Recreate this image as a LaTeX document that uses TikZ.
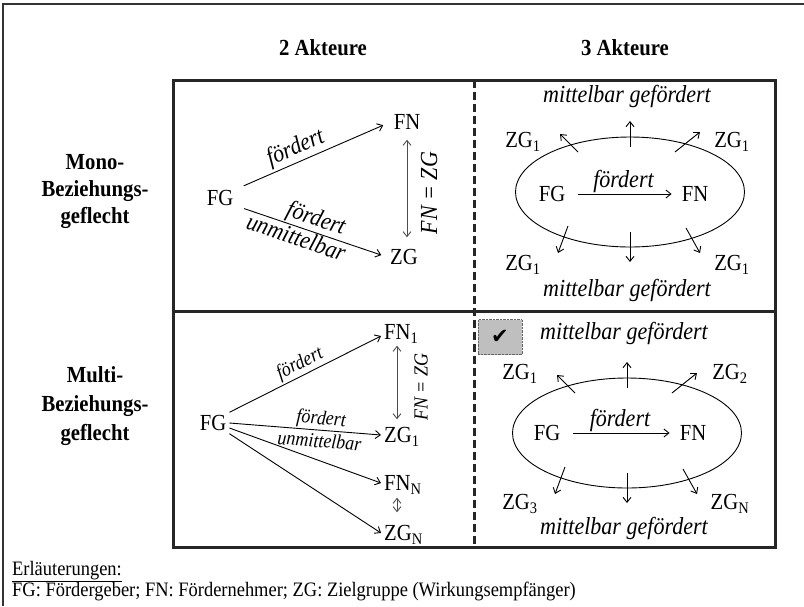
\documentclass[tikz,border=0pt]{standalone}
\usepackage{fontspec}
\setmainfont{Liberation Serif}[FakeStretch=0.9]
\newfontfamily\symfont{DejaVu Sans}
\usetikzlibrary{arrows.meta,shapes.geometric,calc}
\begin{document}
\begin{tikzpicture}[x=1pt,y=-1pt,>={Straight Barb[length=5pt,width=8pt]},
  lbl/.style={font=\fontsize{23}{27}\selectfont,inner sep=3pt,text height=15pt,text depth=0pt},
  itl/.style={font=\fontsize{24.5}{28}\selectfont\itshape,inner sep=2pt},
  itlsm/.style={font=\fontsize{20}{24}\selectfont\itshape,inner sep=2pt},
  hdr/.style={font=\fontsize{23}{28}\selectfont\bfseries,align=center},
  legend/.style={anchor=base west,inner sep=0pt,font=\fontsize{20.5}{24}\selectfont},
  flow/.style={->,line width=0.9pt},
  twoway/.style={<->,line width=0.9pt,draw=black!70},
  rim/.style={line width=3pt,draw=black!85},
  cloud/.style={draw,ellipse,line width=0.9pt,minimum width=229pt,minimum height=110pt,inner sep=0pt}]
\useasboundingbox (0,0) rectangle (804,606);
\draw[line width=1.2pt,black!80] (3,606) -- (3,4) -- (804,4);
% Tabelle
\draw[rim] (173,80) rectangle (775,547);
\draw[rim] (173,311) -- (775,311);
\draw[rim,dash pattern=on 8pt off 4pt] (474,80) -- (474,547);
\node[hdr] (hdrA) at (323,48) {2 Akteure};
\node[hdr] (hdrB) at (625,48) {3 Akteure};
\node[hdr,font=\fontsize{23}{27}\selectfont\bfseries] (rowA) at (95,192) {Mono-\\Beziehungs-\\geflecht};
\node[hdr,font=\fontsize{23}{29}\selectfont\bfseries] (rowB) at (95,406) {Multi-\\Beziehungs-\\geflecht};
% Mono, 2 Akteure
\node[lbl] (fgA) at (220,198) {FG};
\node[lbl] (fnA) at (407,122) {FN};
\node[lbl] (zgA) at (404,257) {ZG};
\draw[flow,shorten <=8pt,shorten >=8pt] ([yshift=9pt]fgA.east) -- (fnA.west)
  node[pos=0.42,above,sloped,itl] (lfA) {fördert};
\draw[flow,shorten <=8pt,shorten >=6pt] ([yshift=-8pt]fgA.east) -- (zgA.west)
  node[pos=0.5,above,sloped,itl,inner sep=1pt] (lfA2) {fördert}
  node[pos=0.42,below,sloped,itl,inner sep=1pt] (luA) {unmittelbar};
\draw[twoway,shorten <=7pt,shorten >=9pt] (fnA.south) -- (fnA.south |- zgA.north);
\node[itl,rotate=90] (eqA) at (429,193) {FN = ZG};
% Mono, 3 Akteure
\node[itl] (mgA1) at (627,96) {mittelbar gefördert};
\node[itl] (mgA2) at (627,290) {mittelbar gefördert};
\node[cloud] (ellA) at (630,192) {};
\node[lbl] (fgB) at (552,194) {FG};
\node[lbl] (fnB) at (695,194) {FN};
\draw[flow,shorten <=10pt,shorten >=7pt] (fgB.east) -- (fnB.west)
  node[midway,above,itl,inner sep=1pt] (lfB) {fördert};
\node[lbl] (zgA1) at (523,140) {ZG\textsubscript{1}};
\node[lbl] (zgA2) at (732,140) {ZG\textsubscript{1}};
\node[lbl] (zgA3) at (523,263) {ZG\textsubscript{1}};
\node[lbl] (zgA4) at (732,263) {ZG\textsubscript{1}};
% Multi, 2 Akteure
\node[lbl] (fgD) at (213,423) {FG};
\node[lbl,anchor=west] (fnD1) at (381,332) {FN\textsubscript{1}};
\node[lbl,anchor=west] (zgD1) at (381,435) {ZG\textsubscript{1}};
\node[lbl,anchor=west] (fnD2) at (381,483) {FN\textsubscript{N}};
\node[lbl,anchor=west] (zgD2) at (381,533) {ZG\textsubscript{N}};
\draw[flow] (fgD.north east) -- ([yshift=-4pt]fnD1.west)
  node[pos=0.5,above,sloped,itlsm] (lfD) {fördert};
\draw[flow] (fgD.east) -- (zgD1.west)
  node[pos=0.6,above,sloped,itlsm,inner sep=1pt] (lfD2) {fördert}
  node[pos=0.6,below=2pt,sloped,itlsm,inner sep=1pt] (luD) {unmittelbar};
\draw[flow] ([yshift=-5pt]fgD.east) -- (fnD2.west);
\draw[flow] (fgD.south east) -- (zgD2.west);
\draw[twoway,shorten <=3pt,shorten >=5pt] ([xshift=16pt]fnD1.south west) -- ([xshift=16pt]zgD1.north west);
\draw[twoway,shorten <=4pt,shorten >=10pt] ([xshift=16pt]fnD2.south west) -- ([xshift=16pt]zgD2.north west);
\node[itlsm,rotate=90] (eqD) at (421,387) {FN = ZG};
% Multi, 3 Akteure
\node[draw=black!60,densely dotted,fill=black!25,minimum width=44pt,minimum height=35pt] (chk) at (500,337) {};
\node[font=\symfont\fontsize{21}{21}\selectfont] (chkmark) at (chk) {✔};
\node[itl] (mgB1) at (624,333) {mittelbar gefördert};
\node[itl] (mgB2) at (624,528) {mittelbar gefördert};
\node[cloud] (ellB) at (627,433) {};
\node[lbl] (fgC) at (547,433) {FG};
\node[lbl] (fnC) at (693,433) {FN};
\draw[flow,shorten <=10pt,shorten >=7pt] (fgC.east) -- (fnC.west)
  node[midway,above,itl,inner sep=1pt] (lfC) {fördert};
\node[lbl] (zgB1) at (520,372) {ZG\textsubscript{1}};
\node[lbl] (zgB2) at (730,372) {ZG\textsubscript{2}};
\node[lbl] (zgB3) at (520,502) {ZG\textsubscript{3}};
\node[lbl] (zgB4) at (730,502) {ZG\textsubscript{N}};
% mittelbare Wirkung
\foreach \e in {ellA,ellB}
  \foreach \sx/\sy/\ex/\ey in {-52/-40/-70/-58,0/-45/0/-71,45/-40/70/-60,-62/34/-72/61,0/40/0/70,56/36/70/61}
    \draw[flow] ($(\e)+(\sx,\sy)$) -- ($(\e)+(\ex,\ey)$);
% Legende
\node[legend] (legA) at (12,575) {\underline{Erläuterungen:}};
\node[legend] (legB) at (12,596) {FG: Fördergeber; FN: Fördernehmer; ZG: Zielgruppe (Wirkungsempfänger)};
\end{tikzpicture}
\end{document}
